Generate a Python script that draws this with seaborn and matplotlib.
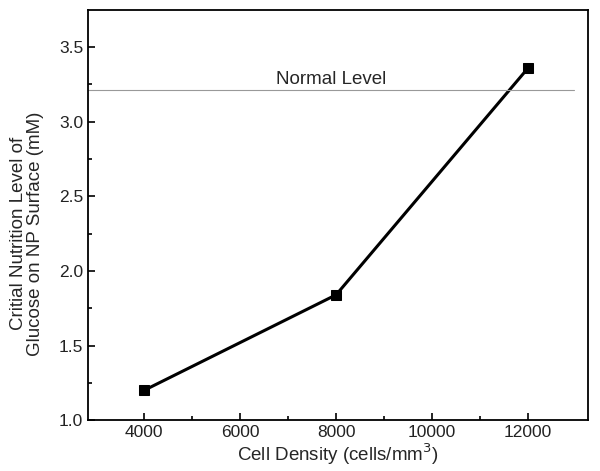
import matplotlib
matplotlib.use("Agg")
import matplotlib.pyplot as plt
import seaborn as sns
import pandas as pd

# data
cell_density = [4000, 8000, 12000]
glucose_level = [1.20, 1.84, 3.36]
normal_level = 3.215

df = pd.DataFrame({"density": cell_density, "glucose": glucose_level})

sns.set_style("ticks")
plt.rcParams["font.family"] = ["Liberation Sans", "DejaVu Sans"]

fig, ax = plt.subplots(figsize=(6.0, 4.71), dpi=100)
fig.subplots_adjust(left=0.147, right=0.98, top=0.979, bottom=0.108)

sns.lineplot(data=df, x="density", y="glucose", ax=ax, color="black",
             linewidth=2.2, marker="s", markersize=6.5, markeredgecolor="black")

# normal level reference line
ax.plot([2833, 12950], [normal_level, normal_level], color="#999999", linewidth=0.8)
ax.text(7900, 3.255, "Normal Level", ha="center", va="baseline", fontsize=13.5)

ax.set_xlim(2833, 13250)
ax.set_ylim(1.0, 3.75)
ax.set_xticks([4000, 6000, 8000, 10000, 12000])
ax.set_xticks([5000, 7000, 9000, 11000], minor=True)
ax.set_yticks([1.0, 1.5, 2.0, 2.5, 3.0, 3.5])
ax.set_yticks([1.25, 1.75, 2.25, 2.75, 3.25], minor=True)
ax.yaxis.set_major_formatter(matplotlib.ticker.FormatStrFormatter("%.1f"))

ax.tick_params(which="both", direction="in", color="black", labelsize=12.5, width=1.2)
ax.tick_params(which="major", length=5)
ax.tick_params(which="minor", length=3)
ax.tick_params(axis="both", labelcolor="#222222")

for sp in ax.spines.values():
    sp.set_visible(True)
    sp.set_linewidth(1.3)
    sp.set_color("black")

ax.set_xlabel("Cell Density (cells/mm$^3$)", fontsize=13.5, labelpad=1)
ax.set_ylabel("Critial Nutrition Level of\nGlucose on NP Surface (mM)", fontsize=13.5,
              linespacing=1.05)
ax.yaxis.set_label_coords(-0.088, 0.455)

plt.savefig("out.png", dpi=100)
